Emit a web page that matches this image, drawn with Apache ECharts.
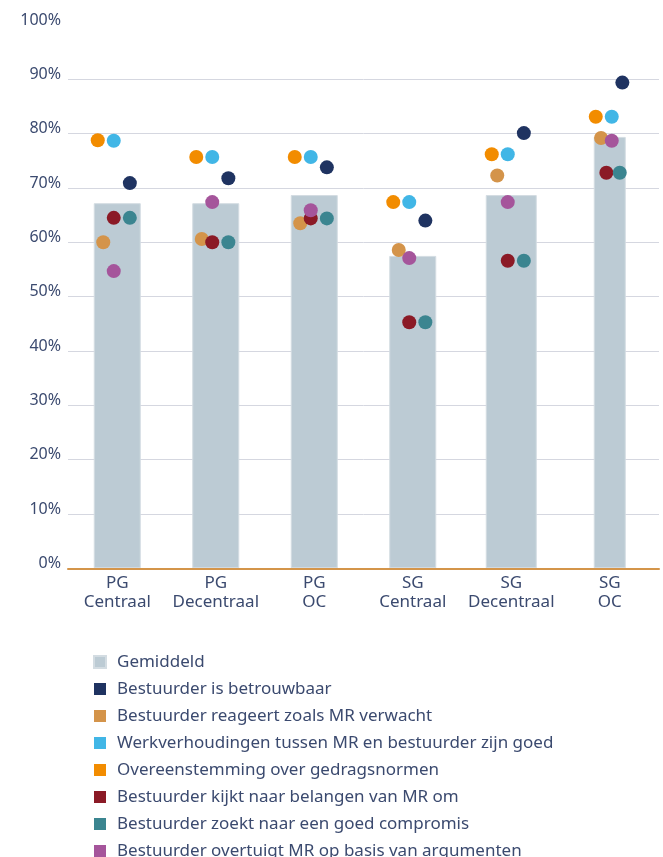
<!DOCTYPE html>
<html><head><meta charset="utf-8">
<script src="https://cdn.jsdelivr.net/npm/echarts@6/dist/echarts.min.js"></script>
<style>html,body{margin:0;padding:0;background:#fff}#c{width:663px;height:857px}</style>
</head><body><div id="c"></div>
<script>
// ---- data ----
const categories = ['PG\nCentraal', 'PG\nDecentraal', 'PG\nOC', 'SG\nCentraal', 'SG\nDecentraal', 'SG\nOC'];
const gemiddeld        = [67.2, 67.2, 68.7, 57.5, 68.7, 79.4];
const betrouwbaar      = [70.9, 71.8, 73.8, 64.0, 80.1, 89.4];
const reageert         = [60.0, 60.6, 63.5, 58.6, 72.3, 79.2];
const werkverhoudingen = [78.7, 75.7, 75.7, 67.4, 76.2, 83.1];
const overeenstemming  = [78.8, 75.7, 75.7, 67.4, 76.2, 83.1];
const belangen         = [64.5, 60.0, 64.4, 45.3, 56.6, 72.8];
const compromis        = [64.5, 60.0, 64.4, 45.3, 56.6, 72.8];
const overtuigt        = [54.7, 67.4, 65.9, 57.1, 67.4, 78.7];
const yTickMin = 0, yTickMax = 100, yTickStep = 10;

// ---- styles ----
const textColor = '#3b4a6f';
const font = 'Noto Sans';
const barColor = '#bccbd4';
const barWidths = [47, 47, 47, 47, 51, 32];
const pointSeries = [
  { name: 'Bestuurder is betrouwbaar', data: betrouwbaar, color: '#1f3361', off: [12.6, 12.6, 12.6, 12.6, 12.6, 12.6] },
  { name: 'Bestuurder reageert zoals MR verwacht', data: reageert, color: '#d4944a', off: [-14, -14, -14, -14, -14, -8.7] },
  { name: 'Werkverhoudingen tussen MR en bestuurder zijn goed', data: werkverhoudingen, color: '#41b6e6', off: [-3.5, -3.5, -3.5, -3.5, -3.5, 2] },
  { name: 'Overeenstemming over gedragsnormen', data: overeenstemming, color: '#f28c00', off: [-19.5, -19.5, -19.5, -19.5, -19.5, -14] },
  { name: 'Bestuurder kijkt naar belangen van MR om', data: belangen, color: '#8b1a26', off: [-3.5, -3.5, -3.5, -3.5, -3.5, -3.4] },
  { name: 'Bestuurder zoekt naar een goed compromis', data: compromis, color: '#3b8590', off: [12.6, 12.6, 12.6, 12.6, 12.6, 10] },
  { name: 'Bestuurder overtuigt MR op basis van argumenten', data: overtuigt, color: '#a5559b', off: [-3.5, -3.5, -3.5, -3.5, -3.5, 2] }
];

const widthGroups = [...new Set(barWidths)];
const xAxes = widthGroups.map((w, i) => ({
  type: 'category',
  data: categories,
  show: i === 0,
  axisLine: { show: i === 0, lineStyle: { color: '#d4954a', width: 2 } },
  axisTick: { show: false },
  axisLabel: { interval: 0, color: textColor, fontFamily: font, fontSize: 17, lineHeight: 19, margin: 5 },
  z: 5
}));
const barSeries = widthGroups.map((w, gi) => ({
  name: 'Gemiddeld',
  type: 'bar',
  xAxisIndex: gi,
  barWidth: w,
  itemStyle: { color: barColor, borderColor: '#d3dce2', borderWidth: 1 },
  data: gemiddeld.map((v, i) => barWidths[i] === w ? v : '-'),
  z: 1
}));
const scatterSeries = pointSeries.map(s => ({
  name: s.name,
  type: 'scatter',
  xAxisIndex: 0,
  symbol: 'circle',
  symbolSize: 14,
  itemStyle: { color: s.color, opacity: 1 },
  data: s.data.map((v, i) => ({ value: v, symbolOffset: [s.off[i], 0] })),
  z: 3
}));

const gridColors = [];
for (let v = yTickMin; v <= yTickMax; v += yTickStep) gridColors.push(v === yTickMax ? 'rgba(0,0,0,0)' : '#d5d7e0');

const chart = echarts.init(document.getElementById('c'), null, { renderer: 'canvas' });
chart.setOption({
  animation: false,
  backgroundColor: '#ffffff',
  grid: { left: 68, right: 4, top: 25, bottom: 288.7, containLabel: false },
  xAxis: xAxes,
  yAxis: {
    type: 'value', min: yTickMin, max: yTickMax, interval: yTickStep,
    axisLine: { show: false }, axisTick: { show: false },
    axisLabel: { formatter: '{value}%', color: textColor, fontFamily: font, fontSize: 16, margin: 7, verticalAlign: 'bottom', lineHeight: 10 },
    splitLine: { show: true, lineStyle: { color: gridColors, width: 1 } }
  },
  legend: {
    orient: 'vertical', left: 93, top: 653, padding: 0, height: 260,
    icon: 'rect', itemWidth: 12, itemHeight: 12, itemGap: 9,
    data: ['Gemiddeld'].concat(pointSeries.map(s => s.name)),
    textStyle: { color: textColor, fontFamily: font, fontSize: 17, lineHeight: 18, padding: [0, 0, 0, 6] }
  },
  series: barSeries.concat(scatterSeries)
});
</script></body></html>
